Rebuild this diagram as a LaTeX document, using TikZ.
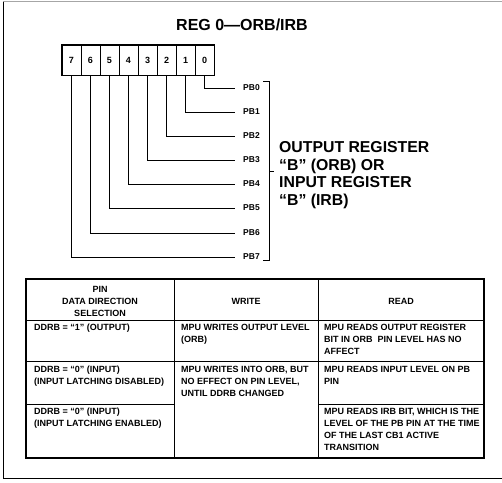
\documentclass[tikz,border=0pt]{standalone}
\usepackage{fontspec}
\setmainfont{Liberation Sans}

\begin{document}
\begin{tikzpicture}[x=1pt,y=-1pt,
  bit/.style={draw,line width=1pt,minimum width=19pt,minimum height=30pt,inner sep=0pt,font=\fontsize{9}{9}\selectfont\bfseries},
  pin/.style={anchor=west,inner xsep=8pt,inner ysep=0pt,font=\fontsize{8.5}{8.5}\selectfont\bfseries},
  cell/.style={anchor=north west,align=left,inner sep=0pt,font=\fontsize{9}{12}\selectfont\bfseries},
  head/.style={align=center,inner sep=0pt,font=\fontsize{9}{12}\selectfont\bfseries}]
  \useasboundingbox (0,0) rectangle (502,482);
  % frame
  \draw[gray!70] (3,1.5) -- (502,1.5);
  \draw[line width=0.9pt] (3,1.5) -- (3,478) -- (502,478);
  \node[font=\fontsize{16}{16}\selectfont\bfseries] (title) at (242,25) {REG 0—ORB/IRB};
  % register bits
  \node[bit] (b7) at (71.5,60) {7};
  \node[bit] (b6) at (90.5,60) {6};
  \node[bit] (b5) at (109.5,60) {5};
  \node[bit] (b4) at (128.5,60) {4};
  \node[bit] (b3) at (147.5,60) {3};
  \node[bit] (b2) at (166.5,60) {2};
  \node[bit] (b1) at (185.5,60) {1};
  \node[bit] (b0) at (204.5,60) {0};
  \draw[line width=1.8pt] (b7.north west) rectangle (b0.south east);
  \node[pin] (pb0) at (235,88) {PB0};
  \node[pin] (pb1) at (235,112) {PB1};
  \node[pin] (pb2) at (235,136) {PB2};
  \node[pin] (pb3) at (235,160) {PB3};
  \node[pin] (pb4) at (235,184) {PB4};
  \node[pin] (pb5) at (235,208) {PB5};
  \node[pin] (pb6) at (235,233) {PB6};
  \node[pin] (pb7) at (235,257) {PB7};
  \draw (b0.south) |- (pb0); \draw (b1.south) |- (pb1);
  \draw (b2.south) |- (pb2); \draw (b3.south) |- (pb3);
  \draw (b4.south) |- (pb4); \draw (b5.south) |- (pb5);
  \draw (b6.south) |- (pb6); \draw (b7.south) |- (pb7);
  \draw[line width=0.9pt] (263,81) -- (269,81) -- (269,260) -- (263,260);
  \draw[line width=0.9pt] (269,171) -- (274,171);
  \node[anchor=west,align=left,inner sep=0pt,font=\fontsize{15.8}{17.5}\selectfont\bfseries] (reg) at (279,175)
    {OUTPUT REGISTER\\“B” (ORB) OR\\INPUT REGISTER\\“B” (IRB)};
  % table
  \draw[line width=1.3pt] (26,279) rectangle (484,458);
  \draw[line width=1pt] (174,279) -- (174,458); \draw[line width=1pt] (318,279) -- (318,458);
  \draw[line width=1pt] (26,320) -- (484,320); \draw[line width=1pt] (26,361) -- (484,361);
  \draw[line width=1pt] (26,404) -- (174,404); \draw[line width=1pt] (318,404) -- (484,404);
  \node[head] (hpin) at (100,301) {PIN\\DATA DIRECTION\\SELECTION};
  \node[head] (hwr) at (246,301) {WRITE};
  \node[head] (hrd) at (401,301) {READ};
  \node[cell] (c11) at (34,324) {DDRB = “1” (OUTPUT)};
  \node[cell] (c12) at (181,324) {MPU WRITES OUTPUT LEVEL\\(ORB)};
  \node[cell] (c13) at (324,324) {MPU READS OUTPUT REGISTER\\BIT IN ORB\ \ PIN LEVEL HAS NO\\AFFECT};
  \node[cell] (c21) at (34,366) {DDRB = “0” (INPUT)\\(INPUT LATCHING DISABLED)};
  \node[cell] (c22) at (181,366) {MPU WRITES INTO ORB, BUT\\NO EFFECT ON PIN LEVEL,\\UNTIL DDRB CHANGED};
  \node[cell] (c23) at (324,366) {MPU READS INPUT LEVEL ON PB\\PIN};
  \node[cell] (c31) at (34,408) {DDRB = “0” (INPUT)\\(INPUT LATCHING ENABLED)};
  \node[cell] (c33) at (324,408) {MPU READS IRB BIT, WHICH IS THE\\LEVEL OF THE PB PIN AT THE TIME\\OF THE LAST CB1 ACTIVE\\TRANSITION};
\end{tikzpicture}
\end{document}
